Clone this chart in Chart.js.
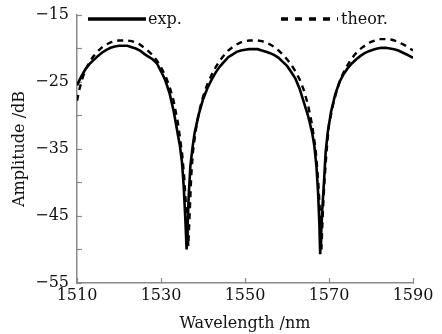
<!DOCTYPE html>
<html>
<head>
<meta charset="utf-8">
<script src="https://cdn.jsdelivr.net/npm/chart.js@4/dist/chart.umd.min.js"></script>
<style>
  html, body { margin: 0; padding: 0; background: #fff; }
  #wrap { width: 442px; height: 334px; }
</style>
</head>
<body>
<div id="wrap"><canvas id="myChart" width="442" height="334"></canvas></div>
<script>
// measured curve (exp.)
const expWavelength = [
    1510, 1511, 1512, 1513, 1514, 1515, 1516, 1517, 1518, 1519, 1520, 1521, 1522, 1523,
    1524, 1525, 1526, 1527, 1528, 1529, 1530, 1531, 1532, 1533, 1534, 1534.5, 1535, 1535.4,
    1535.8, 1536.1, 1536.3, 1536.6, 1537, 1537.5, 1538, 1539, 1540, 1541, 1542, 1543, 1544,
    1545, 1546, 1547, 1548, 1549, 1550, 1551, 1552, 1553, 1554, 1555, 1556, 1557, 1558,
    1559, 1560, 1561, 1562, 1563, 1564, 1565, 1566, 1566.5, 1567, 1567.4, 1567.7, 1567.9,
    1568.1, 1568.4, 1568.8, 1569.2, 1569.7, 1570.5, 1571.5, 1572.5, 1573.5, 1574.5, 1575.5,
    1576.5, 1577.5, 1578.5, 1579.5, 1580.5, 1581.5, 1582.5, 1583.5, 1584.5, 1585.5, 1586.5,
    1587.5, 1588.5, 1589.5, 1590
];
const expAmplitude = [
    -25.5, -24.2, -23.1, -22.3, -21.7, -21.1, -20.6, -20.2, -19.9, -19.7, -19.6, -19.6, -19.6, -19.8,
    -20.0, -20.3, -20.8, -21.2, -21.6, -22.2, -23.4, -24.7, -26.6, -29.3, -32.8, -34.5, -37.0, -40.5,
    -45.5, -50.0, -47.0, -42.0, -37.5, -34.8, -32.6, -29.8, -27.6, -26.0, -24.7, -23.6, -22.7,
    -22.0, -21.3, -20.9, -20.5, -20.3, -20.2, -20.1, -20.1, -20.1, -20.3, -20.5, -20.7, -21.0, -21.4,
    -22.0, -22.6, -23.5, -24.5, -26.0, -28.0, -30.0, -32.6, -34.5, -37.5, -41.5, -46.0, -50.7,
    -48.0, -44.0, -40.0, -35.5, -32.5, -29.4, -26.8, -25.0, -23.8, -22.9, -22.2,
    -21.6, -21.1, -20.7, -20.4, -20.2, -20.0, -19.9, -19.9, -20.0, -20.1, -20.3,
    -20.6, -20.9, -21.2, -21.4
];

// theoretical curve (theor.)
const theorWavelength = [
    1510, 1510.5, 1511, 1512, 1513, 1514, 1515, 1516, 1517, 1518, 1519, 1520, 1521, 1522,
    1523, 1524, 1525, 1526, 1527, 1528, 1529, 1530, 1531, 1532, 1533, 1534, 1535, 1535.5,
    1536, 1536.5, 1536.8, 1537.2, 1537.6, 1538.2, 1539, 1540, 1541, 1542, 1543, 1544, 1545,
    1546, 1547, 1548, 1549, 1550, 1551, 1552, 1553, 1554, 1555, 1556, 1557, 1558, 1559,
    1560, 1561, 1562, 1563, 1564, 1565, 1566, 1566.8, 1567.4, 1567.9, 1568.2, 1568.5, 1568.9,
    1569.4, 1570, 1571, 1572, 1573, 1574, 1575, 1576, 1577, 1578, 1579, 1580, 1581, 1582,
    1583, 1584, 1585, 1586, 1587, 1588, 1589, 1590
];
const theorAmplitude = [
    -27.8, -26.3, -25.0, -23.2, -22.0, -21.1, -20.4, -19.8, -19.4, -19.1, -18.9, -18.8, -18.8, -18.8,
    -18.9, -19.1, -19.4, -19.9, -20.4, -21.0, -21.8, -22.8, -24.0, -25.6, -27.8, -31.0, -35.5, -39.0,
    -44.0, -49.5, -45.0, -39.0, -35.5, -32.5, -29.6, -27.2, -25.4, -24.0, -22.8, -21.8, -21.0,
    -20.3, -19.8, -19.4, -19.1, -18.9, -18.8, -18.8, -18.8, -18.9, -19.1, -19.4, -19.8, -20.3, -20.9,
    -21.6, -22.4, -23.4, -24.6, -26.2, -28.4, -31.5, -35.0, -39.5, -45.0, -50.0, -45.0, -40.0,
    -35.5, -31.3, -28.3, -25.9, -24.2, -22.9, -21.9, -21.0, -20.3, -19.8, -19.4, -19.0, -18.8, -18.6,
    -18.6, -18.6, -18.7, -18.9, -19.2, -19.5, -19.9, -20.3
];

const seriesLabels = ['exp.', 'theor.'];

const fontFamily = '"DejaVu Serif", "Liberation Serif", serif';
const axisColor = '#8a8a8a';

function toPoints(xs, ys){
    return xs.map((x, i) => ({x: x, y: ys[i]}));
}

// legend drawn inside the plot area, like the original figure
const innerLegend = {
    id: 'innerLegend',
    afterDatasetsDraw(chart){
        const ctx = chart.ctx;
        const spots = [
            {x0: 88, x1: 146, tx: 148},
            {x0: 281, x1: 338, tx: 341}
        ];
        const y = 19;
        ctx.save();
        chart.data.datasets.forEach((ds, i) => {
            const s = spots[i];
            ctx.strokeStyle = ds.borderColor;
            ctx.lineWidth = 3.5;
            ctx.setLineDash(ds.borderDash.length ? [7, 7] : []);
            ctx.beginPath();
            ctx.moveTo(s.x0, y);
            ctx.lineTo(s.x1, y);
            ctx.stroke();
            ctx.setLineDash([]);
            ctx.fillStyle = '#111';
            ctx.font = '16px ' + fontFamily;
            ctx.textBaseline = 'middle';
            ctx.textAlign = 'left';
            ctx.fillText(ds.label, s.tx, y + 1);
        });
        ctx.restore();
    }
};

const ctx = document.getElementById('myChart').getContext('2d');
const grafico = new Chart(ctx, {
    type: 'line',
    data: {
        datasets: [
            {
                label: seriesLabels[0],
                data: toPoints(expWavelength, expAmplitude),
                borderColor: '#000',
                borderWidth: 2.6,
                borderDash: [],
                pointRadius: 0,
                tension: 0,
                fill: false
            },
            {
                label: seriesLabels[1],
                data: toPoints(theorWavelength, theorAmplitude),
                borderColor: '#000',
                borderWidth: 2.4,
                borderDash: [6, 5],
                pointRadius: 0,
                tension: 0,
                fill: false
            }
        ]
    },
    options: {
        responsive: false,
        animation: false,
        layout: { padding: { left: 0, right: 29, top: 15, bottom: 0 } },
        plugins: {
            legend: { display: false },
            tooltip: { enabled: false }
        },
        scales: {
            x: {
                type: 'linear',
                min: 1510,
                max: 1590,
                ticks: {
                    stepSize: 20,
                    padding: 8,
                    color: '#111',
                    font: { family: fontFamily, size: 16 },
                    maxRotation: 0,
                    callback: v => String(v)
                },
                grid: { drawOnChartArea: false, tickLength: -5, tickColor: axisColor, tickWidth: 1.2 },
                border: { display: true, color: axisColor, width: 1.5 },
                title: {
                    display: true,
                    text: 'Wavelength /nm',
                    color: '#111',
                    font: { family: fontFamily, size: 16 },
                    padding: { top: 0, bottom: 1 }
                },
                afterFit(scale){
                    scale.height = 51;
                    scale.paddingLeft = 0;
                    scale.paddingRight = 0;
                }
            },
            y: {
                min: -55,
                max: -15,
                ticks: {
                    stepSize: 5,
                    padding: 13,
                    color: '#111',
                    font: { family: fontFamily, size: 16 },
                    callback: v => (Math.abs(v) % 10 === 5 ? '\u2212' + Math.abs(v) : '')
                },
                grid: { drawOnChartArea: false, tickLength: -5, tickColor: axisColor, tickWidth: 1.2 },
                border: { display: true, color: axisColor, width: 1.5 },
                title: {
                    display: true,
                    text: 'Amplitude /dB',
                    color: '#111',
                    font: { family: fontFamily, size: 16 },
                    padding: { top: 10, bottom: 0 }
                },
                afterFit(scale){
                    scale.width = 77;
                    scale.paddingTop = 0;
                    scale.paddingBottom = 0;
                }
            }
        }
    },
    plugins: [innerLegend]
});
</script>
</body>
</html>
